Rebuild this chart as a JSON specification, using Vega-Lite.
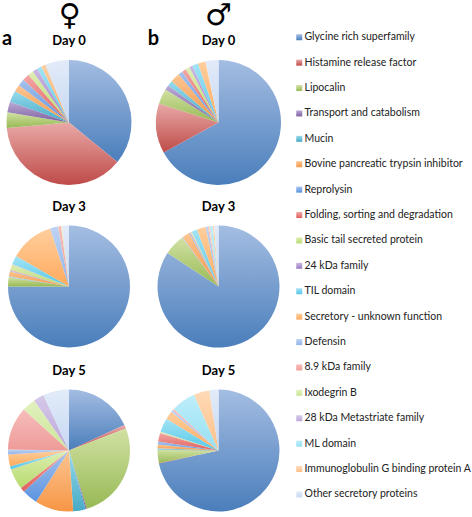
{"$schema":"https://vega.github.io/schema/vega-lite/v6.json","padding":{"left":1.5,"top":0,"right":0,"bottom":0},"background":"white",
"params":[
{"name":"g1","expr":"{gradient:'linear',x1:0,y1:0,x2:0,y2:1,stops:[{offset:0,color:'#A4BDE2'},{offset:1,color:'#4A7EBB'}]}"},
{"name":"g2","expr":"{gradient:'linear',x1:0,y1:0,x2:0,y2:1,stops:[{offset:0,color:'#E8A9A7'},{offset:1,color:'#BE4B48'}]}"},
{"name":"g3","expr":"{gradient:'linear',x1:0,y1:0,x2:0,y2:1,stops:[{offset:0,color:'#D0E1A3'},{offset:1,color:'#98B954'}]}"},
{"name":"g4","expr":"{gradient:'linear',x1:0,y1:0,x2:0,y2:1,stops:[{offset:0,color:'#BBA9D4'},{offset:1,color:'#7D60A0'}]}"},
{"name":"g5","expr":"{gradient:'linear',x1:0,y1:0,x2:0,y2:1,stops:[{offset:0,color:'#96DAEC'},{offset:1,color:'#46AAC5'}]}"},
{"name":"g6","expr":"{gradient:'linear',x1:0,y1:0,x2:0,y2:1,stops:[{offset:0,color:'#FBC592'},{offset:1,color:'#F79646'}]}"},
{"name":"g7","expr":"{gradient:'linear',x1:0,y1:0,x2:0,y2:1,stops:[{offset:0,color:'#A6C2EC'},{offset:1,color:'#5B94E0'}]}"},
{"name":"g8","expr":"{gradient:'linear',x1:0,y1:0,x2:0,y2:1,stops:[{offset:0,color:'#F2A7A5'},{offset:1,color:'#E0605C'}]}"},
{"name":"g9","expr":"{gradient:'linear',x1:0,y1:0,x2:0,y2:1,stops:[{offset:0,color:'#DDEEB2'},{offset:1,color:'#B7DB6D'}]}"},
{"name":"g10","expr":"{gradient:'linear',x1:0,y1:0,x2:0,y2:1,stops:[{offset:0,color:'#CBB9E2'},{offset:1,color:'#9A7DC4'}]}"},
{"name":"g11","expr":"{gradient:'linear',x1:0,y1:0,x2:0,y2:1,stops:[{offset:0,color:'#A3E3F5'},{offset:1,color:'#54C8E8'}]}"},
{"name":"g12","expr":"{gradient:'linear',x1:0,y1:0,x2:0,y2:1,stops:[{offset:0,color:'#FFCE9E'},{offset:1,color:'#FFAA5C'}]}"},
{"name":"g13","expr":"{gradient:'linear',x1:0,y1:0,x2:0,y2:1,stops:[{offset:0,color:'#BDD3F3'},{offset:1,color:'#92B3E8'}]}"},
{"name":"g14","expr":"{gradient:'linear',x1:0,y1:0,x2:0,y2:1,stops:[{offset:0,color:'#F6BDBB'},{offset:1,color:'#EE9B98'}]}"},
{"name":"g15","expr":"{gradient:'linear',x1:0,y1:0,x2:0,y2:1,stops:[{offset:0,color:'#E1F1BE'},{offset:1,color:'#CCE597'}]}"},
{"name":"g16","expr":"{gradient:'linear',x1:0,y1:0,x2:0,y2:1,stops:[{offset:0,color:'#D6C9E8'},{offset:1,color:'#BBA6DA'}]}"},
{"name":"g17","expr":"{gradient:'linear',x1:0,y1:0,x2:0,y2:1,stops:[{offset:0,color:'#BDEEF9'},{offset:1,color:'#96E0F3'}]}"},
{"name":"g18","expr":"{gradient:'linear',x1:0,y1:0,x2:0,y2:1,stops:[{offset:0,color:'#FEDAB8'},{offset:1,color:'#FDBF85'}]}"},
{"name":"g19","expr":"{gradient:'linear',x1:0,y1:0,x2:0,y2:1,stops:[{offset:0,color:'#E2EBF9'},{offset:1,color:'#C6D8F3'}]}"}
],
"config":{"view":{"stroke":null},"font":"Lato","title":{"font":"Lato","fontWeight":"bold","fontSize":13,"color":"#000000"},"legend":{"orient":"none","legendX":287.5,"legendY":-28,"symbolType":"square","symbolSize":36,"labelFont":"Lato","labelFontSize":10.5,"labelColor":"#222222","labelOffset":0,"rowPadding":14.4,"labelLimit":200,"symbolStrokeWidth":0,"padding":0}},
"datasets":{"p":[
{"s":"f","d":0,"o":1,"family":"Glycine rich superfamily","share":35.9},{"s":"f","d":0,"o":2,"family":"Histamine release factor","share":37.7},{"s":"f","d":0,"o":3,"family":"Lipocalin","share":4},{"s":"f","d":0,"o":4,"family":"Transport and catabolism","share":2.8},{"s":"f","d":0,"o":5,"family":"Mucin","share":3},{"s":"f","d":0,"o":6,"family":"Bovine pancreatic trypsin inhibitor","share":1.8},{"s":"f","d":0,"o":7,"family":"Reprolysin","share":1.8},{"s":"f","d":0,"o":8,"family":"Folding, sorting and degradation","share":1.8},{"s":"f","d":0,"o":9,"family":"Basic tail secreted protein","share":1.4},{"s":"f","d":0,"o":10,"family":"24 kDa family","share":1.3},{"s":"f","d":0,"o":11,"family":"TIL domain","share":1.2},{"s":"f","d":0,"o":12,"family":"Secretory - unknown function","share":1},{"s":"f","d":0,"o":13,"family":"Defensin","share":0.1},{"s":"f","d":0,"o":14,"family":"8.9 kDa family","share":0.1},{"s":"f","d":0,"o":15,"family":"Ixodegrin B","share":0.05},{"s":"f","d":0,"o":16,"family":"28 kDa Metastriate family","share":0.05},{"s":"f","d":0,"o":17,"family":"ML domain","share":0.05},{"s":"f","d":0,"o":18,"family":"Immunoglobulin G binding protein A","share":0.05},{"s":"f","d":0,"o":19,"family":"Other secretory proteins","share":5.9},
{"s":"m","d":0,"o":1,"family":"Glycine rich superfamily","share":67.1},{"s":"m","d":0,"o":2,"family":"Histamine release factor","share":12.9},{"s":"m","d":0,"o":3,"family":"Lipocalin","share":3.9},{"s":"m","d":0,"o":4,"family":"Transport and catabolism","share":1.3},{"s":"m","d":0,"o":5,"family":"Mucin","share":1.4},{"s":"m","d":0,"o":6,"family":"Bovine pancreatic trypsin inhibitor","share":2.5},{"s":"m","d":0,"o":7,"family":"Reprolysin","share":1.1},{"s":"m","d":0,"o":8,"family":"Folding, sorting and degradation","share":1.1},{"s":"m","d":0,"o":9,"family":"Basic tail secreted protein","share":1.1},{"s":"m","d":0,"o":10,"family":"24 kDa family","share":0.8},{"s":"m","d":0,"o":11,"family":"TIL domain","share":1.6},{"s":"m","d":0,"o":12,"family":"Secretory - unknown function","share":1.9},{"s":"m","d":0,"o":18,"family":"Immunoglobulin G binding protein A","share":0.1},{"s":"m","d":0,"o":19,"family":"Other secretory proteins","share":3.3},
{"s":"f","d":3,"o":1,"family":"Glycine rich superfamily","share":75},{"s":"f","d":3,"o":3,"family":"Lipocalin","share":2.4},{"s":"f","d":3,"o":4,"family":"Transport and catabolism","share":0.1},{"s":"f","d":3,"o":5,"family":"Mucin","share":0.2},{"s":"f","d":3,"o":6,"family":"Bovine pancreatic trypsin inhibitor","share":1.3},{"s":"f","d":3,"o":7,"family":"Reprolysin","share":0.2},{"s":"f","d":3,"o":8,"family":"Folding, sorting and degradation","share":0.2},{"s":"f","d":3,"o":9,"family":"Basic tail secreted protein","share":1.5},{"s":"f","d":3,"o":10,"family":"24 kDa family","share":0.1},{"s":"f","d":3,"o":11,"family":"TIL domain","share":2.3},{"s":"f","d":3,"o":12,"family":"Secretory - unknown function","share":11.7},{"s":"f","d":3,"o":13,"family":"Defensin","share":2.1},{"s":"f","d":3,"o":14,"family":"8.9 kDa family","share":0.8},{"s":"f","d":3,"o":15,"family":"Ixodegrin B","share":0.2},{"s":"f","d":3,"o":16,"family":"28 kDa Metastriate family","share":0.05},{"s":"f","d":3,"o":17,"family":"ML domain","share":0.05},{"s":"f","d":3,"o":18,"family":"Immunoglobulin G binding protein A","share":0.1},{"s":"f","d":3,"o":19,"family":"Other secretory proteins","share":1.7},
{"s":"m","d":3,"o":1,"family":"Glycine rich superfamily","share":84.1},{"s":"m","d":3,"o":3,"family":"Lipocalin","share":5.5},{"s":"m","d":3,"o":4,"family":"Transport and catabolism","share":0.1},{"s":"m","d":3,"o":5,"family":"Mucin","share":0.1},{"s":"m","d":3,"o":6,"family":"Bovine pancreatic trypsin inhibitor","share":2},{"s":"m","d":3,"o":7,"family":"Reprolysin","share":0.3},{"s":"m","d":3,"o":8,"family":"Folding, sorting and degradation","share":0.2},{"s":"m","d":3,"o":9,"family":"Basic tail secreted protein","share":0.2},{"s":"m","d":3,"o":10,"family":"24 kDa family","share":0.1},{"s":"m","d":3,"o":11,"family":"TIL domain","share":1.5},{"s":"m","d":3,"o":12,"family":"Secretory - unknown function","share":2.3},{"s":"m","d":3,"o":13,"family":"Defensin","share":0.6},{"s":"m","d":3,"o":14,"family":"8.9 kDa family","share":0.3},{"s":"m","d":3,"o":15,"family":"Ixodegrin B","share":0.2},{"s":"m","d":3,"o":16,"family":"28 kDa Metastriate family","share":0.2},{"s":"m","d":3,"o":17,"family":"ML domain","share":0.6},{"s":"m","d":3,"o":18,"family":"Immunoglobulin G binding protein A","share":0.4},{"s":"m","d":3,"o":19,"family":"Other secretory proteins","share":1.1},
{"s":"f","d":5,"o":1,"family":"Glycine rich superfamily","share":18.2},{"s":"f","d":5,"o":2,"family":"Histamine release factor","share":1},{"s":"f","d":5,"o":3,"family":"Lipocalin","share":26.2},{"s":"f","d":5,"o":4,"family":"Transport and catabolism","share":0.3},{"s":"f","d":5,"o":5,"family":"Mucin","share":3.3},{"s":"f","d":5,"o":6,"family":"Bovine pancreatic trypsin inhibitor","share":10.2},{"s":"f","d":5,"o":7,"family":"Reprolysin","share":4.2},{"s":"f","d":5,"o":8,"family":"Folding, sorting and degradation","share":1.2},{"s":"f","d":5,"o":9,"family":"Basic tail secreted protein","share":5.5},{"s":"f","d":5,"o":10,"family":"24 kDa family","share":0.1},{"s":"f","d":5,"o":11,"family":"TIL domain","share":0.8},{"s":"f","d":5,"o":12,"family":"Secretory - unknown function","share":3.1},{"s":"f","d":5,"o":13,"family":"Defensin","share":1.3},{"s":"f","d":5,"o":14,"family":"8.9 kDa family","share":11.5},{"s":"f","d":5,"o":15,"family":"Ixodegrin B","share":3.6},{"s":"f","d":5,"o":16,"family":"28 kDa Metastriate family","share":2.8},{"s":"f","d":5,"o":19,"family":"Other secretory proteins","share":6.9},
{"s":"m","d":5,"o":1,"family":"Glycine rich superfamily","share":71.8},{"s":"m","d":5,"o":2,"family":"Histamine release factor","share":0.1},{"s":"m","d":5,"o":3,"family":"Lipocalin","share":3.5},{"s":"m","d":5,"o":4,"family":"Transport and catabolism","share":0.1},{"s":"m","d":5,"o":5,"family":"Mucin","share":0.3},{"s":"m","d":5,"o":6,"family":"Bovine pancreatic trypsin inhibitor","share":1},{"s":"m","d":5,"o":7,"family":"Reprolysin","share":0.8},{"s":"m","d":5,"o":8,"family":"Folding, sorting and degradation","share":2.3},{"s":"m","d":5,"o":9,"family":"Basic tail secreted protein","share":0.3},{"s":"m","d":5,"o":10,"family":"24 kDa family","share":0.1},{"s":"m","d":5,"o":11,"family":"TIL domain","share":3.7},{"s":"m","d":5,"o":12,"family":"Secretory - unknown function","share":2.2},{"s":"m","d":5,"o":13,"family":"Defensin","share":0.5},{"s":"m","d":5,"o":14,"family":"8.9 kDa family","share":0.5},{"s":"m","d":5,"o":17,"family":"ML domain","share":6.5},{"s":"m","d":5,"o":18,"family":"Immunoglobulin G binding protein A","share":4.2},{"s":"m","d":5,"o":19,"family":"Other secretory proteins","share":2.4}
],"a":[{"label":"a"}],"b":[{"label":"b"}]},
"spacing":15.5,
"resolve":{"scale":{"color":"shared"}},
"hconcat":[
{"title":{"text":"♀","font":"DejaVu Sans","fontSize":30,"fontWeight":"bold","anchor":"middle","offset":-2,"dx":3},"spacing":16,"resolve":{"scale":{"color":"shared"}},"vconcat":[
{"title":{"text":"Day 0","offset":-19},"width":125,"height":125,"layer":[
{"data":{"name":"p"},"transform":[{"filter":"datum.s=='f'&&datum.d==0"}],"mark":{"type":"arc","outerRadius":62.5},"encoding":{"theta":{"field":"share","type":"quantitative","stack":true},"order":{"field":"o","type":"quantitative"},"color":{"field":"family","type":"nominal","title":null,"scale":{"domain":["Glycine rich superfamily","Histamine release factor","Lipocalin","Transport and catabolism","Mucin","Bovine pancreatic trypsin inhibitor","Reprolysin","Folding, sorting and degradation","Basic tail secreted protein","24 kDa family","TIL domain","Secretory - unknown function","Defensin","8.9 kDa family","Ixodegrin B","28 kDa Metastriate family","ML domain","Immunoglobulin G binding protein A","Other secretory proteins"],"range":[{"expr":"g1"},{"expr":"g2"},{"expr":"g3"},{"expr":"g4"},{"expr":"g5"},{"expr":"g6"},{"expr":"g7"},{"expr":"g8"},{"expr":"g9"},{"expr":"g10"},{"expr":"g11"},{"expr":"g12"},{"expr":"g13"},{"expr":"g14"},{"expr":"g15"},{"expr":"g16"},{"expr":"g17"},{"expr":"g18"},{"expr":"g19"}]}}}},
{"data":{"name":"a"},"mark":{"type":"text","font":"Lato","fontWeight":"bold","fontSize":20,"dx":-62,"dy":-84,"color":"#000"},"encoding":{"text":{"field":"label"}}}]},
{"title":{"text":"Day 3","offset":10},"width":125,"height":125,"data":{"name":"p"},"transform":[{"filter":"datum.s=='f'&&datum.d==3"}],"mark":{"type":"arc","outerRadius":61},"encoding":{"theta":{"field":"share","type":"quantitative","stack":true},"order":{"field":"o","type":"quantitative"},"color":{"field":"family","type":"nominal","title":null,"scale":{"domain":["Glycine rich superfamily","Histamine release factor","Lipocalin","Transport and catabolism","Mucin","Bovine pancreatic trypsin inhibitor","Reprolysin","Folding, sorting and degradation","Basic tail secreted protein","24 kDa family","TIL domain","Secretory - unknown function","Defensin","8.9 kDa family","Ixodegrin B","28 kDa Metastriate family","ML domain","Immunoglobulin G binding protein A","Other secretory proteins"],"range":[{"expr":"g1"},{"expr":"g2"},{"expr":"g3"},{"expr":"g4"},{"expr":"g5"},{"expr":"g6"},{"expr":"g7"},{"expr":"g8"},{"expr":"g9"},{"expr":"g10"},{"expr":"g11"},{"expr":"g12"},{"expr":"g13"},{"expr":"g14"},{"expr":"g15"},{"expr":"g16"},{"expr":"g17"},{"expr":"g18"},{"expr":"g19"}]}}}},
{"title":{"text":"Day 5","offset":10},"width":125,"height":125,"data":{"name":"p"},"transform":[{"filter":"datum.s=='f'&&datum.d==5"}],"mark":{"type":"arc","outerRadius":61},"encoding":{"theta":{"field":"share","type":"quantitative","stack":true},"order":{"field":"o","type":"quantitative"},"color":{"field":"family","type":"nominal","title":null,"scale":{"domain":["Glycine rich superfamily","Histamine release factor","Lipocalin","Transport and catabolism","Mucin","Bovine pancreatic trypsin inhibitor","Reprolysin","Folding, sorting and degradation","Basic tail secreted protein","24 kDa family","TIL domain","Secretory - unknown function","Defensin","8.9 kDa family","Ixodegrin B","28 kDa Metastriate family","ML domain","Immunoglobulin G binding protein A","Other secretory proteins"],"range":[{"expr":"g1"},{"expr":"g2"},{"expr":"g3"},{"expr":"g4"},{"expr":"g5"},{"expr":"g6"},{"expr":"g7"},{"expr":"g8"},{"expr":"g9"},{"expr":"g10"},{"expr":"g11"},{"expr":"g12"},{"expr":"g13"},{"expr":"g14"},{"expr":"g15"},{"expr":"g16"},{"expr":"g17"},{"expr":"g18"},{"expr":"g19"}]}}}}
]},
{"title":{"text":"♂","font":"DejaVu Sans","fontSize":30,"fontWeight":"bold","anchor":"middle","offset":-2,"dx":4},"spacing":16,"resolve":{"scale":{"color":"shared"}},"vconcat":[
{"title":{"text":"Day 0","offset":-19},"width":125,"height":125,"layer":[
{"data":{"name":"p"},"transform":[{"filter":"datum.s=='m'&&datum.d==0"}],"mark":{"type":"arc","outerRadius":62.5},"encoding":{"theta":{"field":"share","type":"quantitative","stack":true},"order":{"field":"o","type":"quantitative"},"color":{"field":"family","type":"nominal","title":null,"scale":{"domain":["Glycine rich superfamily","Histamine release factor","Lipocalin","Transport and catabolism","Mucin","Bovine pancreatic trypsin inhibitor","Reprolysin","Folding, sorting and degradation","Basic tail secreted protein","24 kDa family","TIL domain","Secretory - unknown function","Defensin","8.9 kDa family","Ixodegrin B","28 kDa Metastriate family","ML domain","Immunoglobulin G binding protein A","Other secretory proteins"],"range":[{"expr":"g1"},{"expr":"g2"},{"expr":"g3"},{"expr":"g4"},{"expr":"g5"},{"expr":"g6"},{"expr":"g7"},{"expr":"g8"},{"expr":"g9"},{"expr":"g10"},{"expr":"g11"},{"expr":"g12"},{"expr":"g13"},{"expr":"g14"},{"expr":"g15"},{"expr":"g16"},{"expr":"g17"},{"expr":"g18"},{"expr":"g19"}]}}}},
{"data":{"name":"b"},"mark":{"type":"text","font":"Lato","fontWeight":"bold","fontSize":20,"dx":-65,"dy":-84,"color":"#000"},"encoding":{"text":{"field":"label"}}}]},
{"title":{"text":"Day 3","offset":10},"width":125,"height":125,"data":{"name":"p"},"transform":[{"filter":"datum.s=='m'&&datum.d==3"}],"mark":{"type":"arc","outerRadius":61},"encoding":{"theta":{"field":"share","type":"quantitative","stack":true},"order":{"field":"o","type":"quantitative"},"color":{"field":"family","type":"nominal","title":null,"scale":{"domain":["Glycine rich superfamily","Histamine release factor","Lipocalin","Transport and catabolism","Mucin","Bovine pancreatic trypsin inhibitor","Reprolysin","Folding, sorting and degradation","Basic tail secreted protein","24 kDa family","TIL domain","Secretory - unknown function","Defensin","8.9 kDa family","Ixodegrin B","28 kDa Metastriate family","ML domain","Immunoglobulin G binding protein A","Other secretory proteins"],"range":[{"expr":"g1"},{"expr":"g2"},{"expr":"g3"},{"expr":"g4"},{"expr":"g5"},{"expr":"g6"},{"expr":"g7"},{"expr":"g8"},{"expr":"g9"},{"expr":"g10"},{"expr":"g11"},{"expr":"g12"},{"expr":"g13"},{"expr":"g14"},{"expr":"g15"},{"expr":"g16"},{"expr":"g17"},{"expr":"g18"},{"expr":"g19"}]}}}},
{"title":{"text":"Day 5","offset":10},"width":125,"height":125,"data":{"name":"p"},"transform":[{"filter":"datum.s=='m'&&datum.d==5"}],"mark":{"type":"arc","outerRadius":61},"encoding":{"theta":{"field":"share","type":"quantitative","stack":true},"order":{"field":"o","type":"quantitative"},"color":{"field":"family","type":"nominal","title":null,"scale":{"domain":["Glycine rich superfamily","Histamine release factor","Lipocalin","Transport and catabolism","Mucin","Bovine pancreatic trypsin inhibitor","Reprolysin","Folding, sorting and degradation","Basic tail secreted protein","24 kDa family","TIL domain","Secretory - unknown function","Defensin","8.9 kDa family","Ixodegrin B","28 kDa Metastriate family","ML domain","Immunoglobulin G binding protein A","Other secretory proteins"],"range":[{"expr":"g1"},{"expr":"g2"},{"expr":"g3"},{"expr":"g4"},{"expr":"g5"},{"expr":"g6"},{"expr":"g7"},{"expr":"g8"},{"expr":"g9"},{"expr":"g10"},{"expr":"g11"},{"expr":"g12"},{"expr":"g13"},{"expr":"g14"},{"expr":"g15"},{"expr":"g16"},{"expr":"g17"},{"expr":"g18"},{"expr":"g19"}]}}}}
]}
]}
